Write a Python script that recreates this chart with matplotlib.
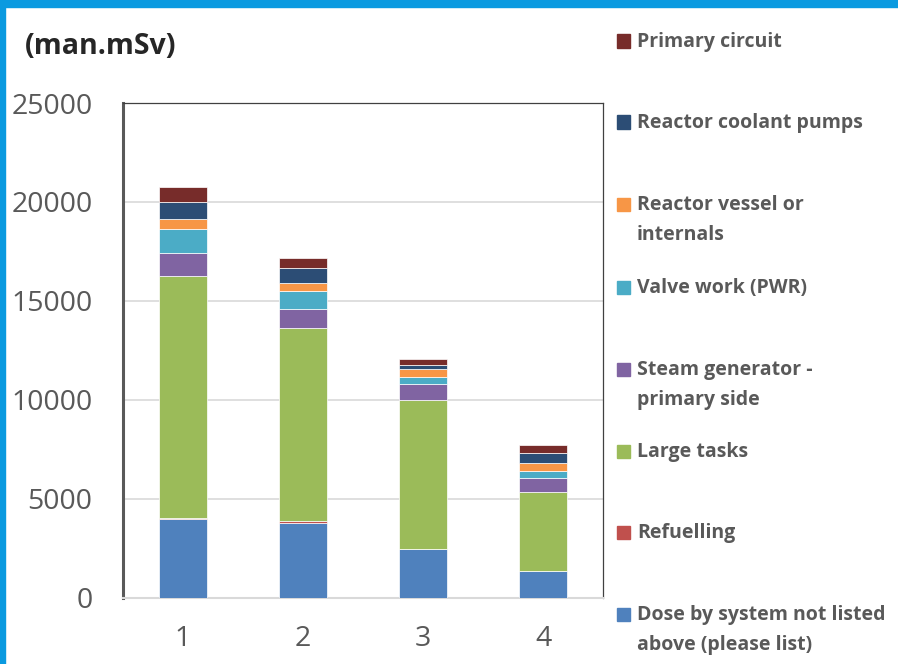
import matplotlib
matplotlib.use("Agg")
import matplotlib.pyplot as plt
from matplotlib.patches import Rectangle

plt.rcParams['font.family'] = ['Open Sans', 'DejaVu Sans']

# data (man.mSv), stacked bottom -> top
groups = ['1', '2', '3', '4']
dose_other = [3960, 3760, 2475, 1360]
refuelling = [70, 100, 0, 0]
large_tasks = [12200, 9740, 7485, 3955]
steam_gen = [1195, 990, 850, 730]
valve_work = [1200, 910, 335, 335]
reactor_vessel = [520, 410, 385, 405]
coolant_pumps = [865, 730, 205, 525]
primary_circuit = [730, 520, 340, 420]

series = [
    ("Dose by system not listed\nabove (please list)", dose_other, '#4f81bd'),
    ("Refuelling", refuelling, '#c0504d'),
    ("Large tasks", large_tasks, '#9bbb59'),
    ("Steam generator -\nprimary side", steam_gen, '#8064a2'),
    ("Valve work (PWR)", valve_work, '#4bacc6'),
    ("Reactor vessel or\ninternals", reactor_vessel, '#f79646'),
    ("Reactor coolant pumps", coolant_pumps, '#2c4d75'),
    ("Primary circuit", primary_circuit, '#772c2a'),
]

fig = plt.figure(figsize=(8.98, 6.64), dpi=100)
ax = fig.add_axes([123/898, 66.5/664, 480/898, 494.5/664])

x = range(len(groups))
bottom = [0] * len(groups)
for name, vals, col in series:
    ax.bar(x, vals, 0.4, bottom=bottom, color=col, edgecolor='white', linewidth=0.5, zorder=3)
    bottom = [b + v for b, v in zip(bottom, vals)]

ax.set_xlim(-0.5, 3.5)
ax.set_ylim(0, 25000)
ax.set_yticks(range(0, 25001, 5000))
ax.set_xticks(list(x))
ax.set_xticklabels(groups)
ax.tick_params(axis='both', length=0, labelsize=20.5, colors='#595959')
ax.tick_params(axis='y', pad=22)
ax.tick_params(axis='x', pad=20)
ax.yaxis.grid(True, color='#d9d9d9', linewidth=1.2, zorder=0)
ax.set_axisbelow(True)
ax.spines['left'].set_color('#595959')
ax.spines['left'].set_linewidth(2.2)
ax.spines['top'].set_color('#404040')
ax.spines['top'].set_linewidth(0.9)
ax.spines['right'].set_color('#404040')
ax.spines['right'].set_linewidth(0.9)
ax.spines['bottom'].set_color('#d9d9d9')
ax.spines['bottom'].set_linewidth(1.5)

fig.text(25/898, 1 - 46/664, "(man.mSv)", fontsize=20.5, fontweight='bold',
         color='#262626', va='center', ha='left')

# legend, top entry first, evenly spaced like the original
leg_y = [41, 122, 204, 287, 369, 451, 532, 614]
for (name, vals, col), yy in zip(reversed(series), leg_y):
    fig.patches.append(Rectangle((617/898, 1 - (yy + 6.5)/664), 13/898, 13/664,
                                 transform=fig.transFigure, color=col))
    for j, line in enumerate(name.split("\n")):
        fig.text(637/898, 1 - (yy + 1 + 30*j)/664, line, fontsize=14, fontweight='bold',
                 color='#595959', va='center', ha='left')

# blue frame on top and left
fig.patches.append(Rectangle((0, 1 - 7/664), 1, 7/664, transform=fig.transFigure, color='#0a9ae0'))
fig.patches.append(Rectangle((0, 0), 5/898, 1, transform=fig.transFigure, color='#0a9ae0'))

fig.savefig("out.png", dpi=100)
